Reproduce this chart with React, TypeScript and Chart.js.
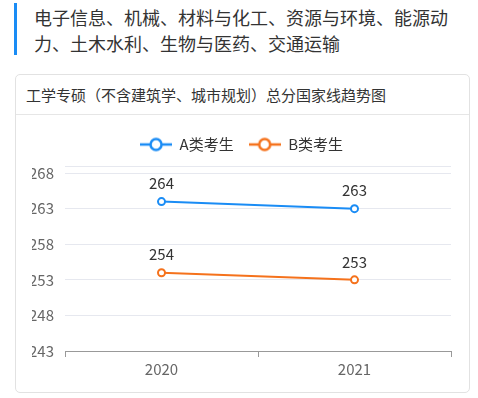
import React, { useEffect, useRef } from "react";
import { Chart, registerables } from "chart.js";

Chart.register(...registerables);

const headerText = "电子信息、机械、材料与化工、资源与环境、能源动力、土木水利、生物与医药、交通运输";
const cardTitle = "工学专硕（不含建筑学、城市规划）总分国家线趋势图";
const years = ["2020", "2021"];
const seriesNames = ["A类考生", "B类考生"];
const seriesA = [264, 263];
const seriesB = [254, 253];
const yTickValues = [243, 248, 253, 258, 263, 268];
const yMin = 243;
const yMax = 269;

const BLUE = "#1a8cf5";
const ORANGE = "#f5721c";
const FONT = '"Noto Sans CJK SC", "Noto Sans", sans-serif';

function legendIcon(color: string) {
  const c = document.createElement("canvas");
  c.width = 32;
  c.height = 16;
  const ctx = c.getContext("2d")!;
  ctx.strokeStyle = color;
  ctx.lineWidth = 2.5;
  ctx.beginPath();
  ctx.moveTo(0, 8);
  ctx.lineTo(32, 8);
  ctx.stroke();
  ctx.beginPath();
  ctx.arc(16, 8, 5.5, 0, Math.PI * 2);
  ctx.fillStyle = "#fff";
  ctx.fill();
  ctx.stroke();
  return c;
}

const valueLabels = {
  id: "valueLabels",
  afterDatasetsDraw(chart: any) {
    const ctx = chart.ctx;
    ctx.save();
    ctx.font = `15px ${FONT}`;
    ctx.fillStyle = "#333";
    ctx.textAlign = "center";
    ctx.textBaseline = "middle";
    chart.data.datasets.forEach((ds: any, i: number) => {
      const meta = chart.getDatasetMeta(i);
      meta.data.forEach((pt: any, j: number) => {
        ctx.fillText(String(ds.data[j]), pt.x, pt.y - 18);
      });
    });
    ctx.restore();
  },
};

export default function App() {
  const ref = useRef<HTMLCanvasElement>(null);

  useEffect(() => {
    const icons = [legendIcon(BLUE), legendIcon(ORANGE)];
    const chart = new Chart(ref.current!, {
      type: "line",
      data: {
        labels: years,
        datasets: [
          {
            label: seriesNames[0],
            data: seriesA,
            borderColor: BLUE,
            backgroundColor: "#fff",
            borderWidth: 2,
            pointRadius: 3.5,
            pointBorderWidth: 2,
            pointBackgroundColor: "#fff",
          },
          {
            label: seriesNames[1],
            data: seriesB,
            borderColor: ORANGE,
            backgroundColor: "#fff",
            borderWidth: 2,
            pointRadius: 3.5,
            pointBorderWidth: 2,
            pointBackgroundColor: "#fff",
          },
        ],
      },
      options: {
        animation: false,
        responsive: false,
        maintainAspectRatio: false,
        layout: { padding: { left: 16, right: 18, top: 7, bottom: 11 } },
        elements: { point: { pointStyle: "circle" } },
        plugins: {
          tooltip: { enabled: false },
          subtitle: {
            display: true,
            text: "",
            position: "top",
            weight: 500,
            padding: 0,
            font: { size: 4, lineHeight: 1 },
          },
          legend: {
            display: true,
            position: "top",
            labels: {
              usePointStyle: true,
              pointStyleWidth: 32,
              boxHeight: 15,
              padding: 15,
              color: "#333",
              font: { family: FONT, size: 15 },
              generateLabels: (chart: any) =>
                chart.data.datasets.map((ds: any, i: number) => ({
                  text: ds.label,
                  pointStyle: icons[i],
                  fillStyle: "#fff",
                  strokeStyle: ds.borderColor,
                  lineWidth: 0,
                  hidden: false,
                  datasetIndex: i,
                  fontColor: "#333",
                })),
            },
          },
        },
        scales: {
          x: {
            type: "category",
            offset: true,
            grid: {
              display: true,
              drawOnChartArea: false,
              drawTicks: true,
              tickLength: 6,
              color: "#999",
              offset: true,
            },
            border: { display: true, color: "#999", width: 1 },
            ticks: { color: "#666", padding: 3, font: { family: FONT, size: 15 } },
          },
          y: {
            min: yMin,
            max: yMax,
            afterBuildTicks: (scale: any) => {
              scale.ticks = [...yTickValues, yMax].map((value) => ({ value }));
            },
            afterFit: (scale: any) => {
              scale.width = 33;
            },
            grid: { color: "#e6e8ef", drawTicks: false, lineWidth: 1 },
            border: { display: false },
            ticks: {
              color: "#666",
              padding: 11,
              font: { family: FONT, size: 15 },
              callback: (v: any) => (yTickValues.includes(Number(v)) ? String(v) : ""),
            },
          },
        },
      },
      plugins: [valueLabels],
    });
    return () => chart.destroy();
  }, []);

  return (
    <div style={{ position: "absolute", left: 0, top: 0, width: 478, height: 398, background: "#fff", fontFamily: FONT, overflow: "hidden" }}>
      <div style={{ position: "absolute", left: 14, top: 3, width: 3, height: 52, background: BLUE }} />
      <div style={{ position: "absolute", left: 34, top: 4, width: 425, fontSize: 18, lineHeight: "26px", color: "#333" }}>
        {headerText}
      </div>
      <div
        style={{
          position: "absolute",
          left: 15,
          top: 74,
          width: 455,
          height: 319,
          boxSizing: "border-box",
          border: "1px solid #e2e2e2",
          borderRadius: 5,
        }}
      >
        <div
          style={{
            height: 40,
            boxSizing: "border-box",
            borderBottom: "1px solid #e6e6e6",
            paddingLeft: 10,
            fontSize: 15,
            lineHeight: "40px",
            color: "#333",
          }}
        >
          {cardTitle}
        </div>
        <canvas ref={ref} width={453} height={277} style={{ position: "absolute", left: 0, top: 40, width: 453, height: 277 }} />
      </div>
    </div>
  );
}
